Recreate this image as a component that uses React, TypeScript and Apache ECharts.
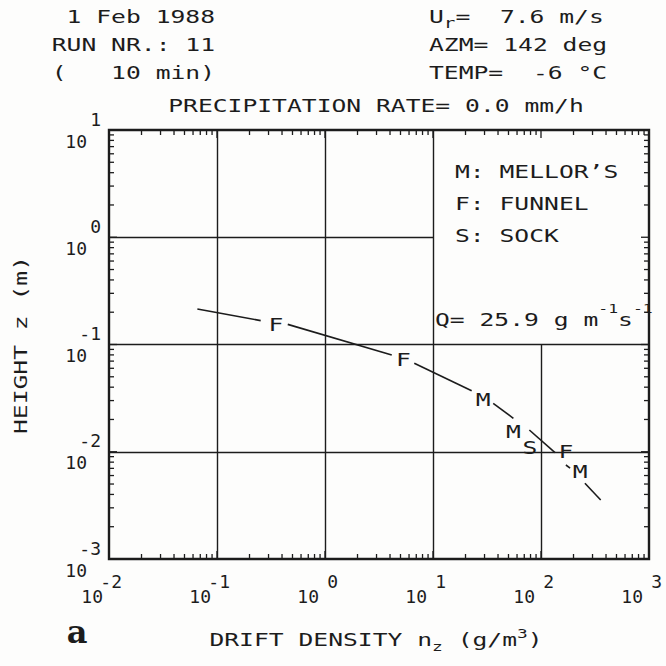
import React, { useEffect, useRef } from 'react';
import * as echarts from 'echarts';

// ---------- data ----------
const xTickExponents = ['-2', '-1', '0', '1', '2', '3'];
const yTickExponents = ['-3', '-2', '-1', '0', '1'];
const minorMantissas = [1, 2, 3, 4, 5, 6, 7, 8, 9];

const xMin = 0.01;
const xMax = 1000;
const yMin = 0.001;
const yMax = 10;

// grid lines (full and partial, the upper right corner is left open for the key)
const fullVerticalGrid = [0.1, 1, 10];
const partialVerticalGrid = [{ x: 100, from: 0.001, to: 0.1 }];
const fullHorizontalGrid = [0.01, 0.1];
const partialHorizontalGrid = [{ y: 1, from: 0.01, to: 10 }];

// fitted profile, drawn as dashes broken where the letters sit
const curveSeg1: number[][] = [[0.0658, 0.214], [0.254, 0.167]];
const curveSeg2: number[][] = [[0.452, 0.154], [4.15, 0.0798]];
const curveSeg3: number[][] = [[6.71, 0.0668], [22.8, 0.0371]];
const curveSeg4: number[][] = [[36.1, 0.0283], [55.5, 0.0205]];
const curveSeg5: number[][] = [[78.0, 0.01596], [134.9, 0.0098]];
const curveSeg6: number[][] = [[170, 0.00752], [186, 0.00705]];
const curveSeg7: number[][] = [[255, 0.00508], [357, 0.00355]];

// measured points (letter = instrument)
const markerLetters = ['F', 'F', 'M', 'M', 'S', 'F', 'M'];
const markerX = [0.352, 5.31, 29.2, 55.5, 79.1, 170, 230];
const markerY = [0.152, 0.0728, 0.0308, 0.0154, 0.011, 0.01, 0.00652];

// ---------- styling ----------
const INK = '#1c1c1c';
const MONO = '"DejaVu Sans Mono", "Liberation Mono", monospace';
const SX = 1.37;

function txt(text: string, x: number, y: number, align: string, extra: any = {}) {
  return {
    type: 'text',
    x,
    y,
    scaleX: SX,
    silent: true,
    style: {
      text,
      fontFamily: MONO,
      fontSize: 18,
      fill: INK,
      textAlign: align,
      align,
      textVerticalAlign: 'middle',
      verticalAlign: 'middle',
      ...extra,
    },
  };
}

export default function App() {
  const ref = useRef<HTMLDivElement>(null);

  useEffect(() => {
    if (!ref.current) return;
    const chart = echarts.init(ref.current, null, { renderer: 'svg' });

    const decadesX = xTickExponents.slice(0, -1).map((e) => Math.pow(10, Number(e)));
    const decadesY = yTickExponents.slice(0, -1).map((e) => Math.pow(10, Number(e)));
    const xTickData: number[][] = [];
    decadesX.forEach((d) => minorMantissas.forEach((m) => xTickData.push([m * d, 1, m === 1 ? 8 : 5])));
    const yTickData: number[][] = [];
    decadesY.forEach((d) => minorMantissas.forEach((m) => yTickData.push([1, m * d, m === 1 ? 8 : 5])));

    const gridLines: any[] = [];
    fullVerticalGrid.forEach((x) => gridLines.push([{ coord: [x, yMin] }, { coord: [x, yMax] }]));
    partialVerticalGrid.forEach((g) => gridLines.push([{ coord: [g.x, g.from] }, { coord: [g.x, g.to] }]));
    fullHorizontalGrid.forEach((y) => gridLines.push([{ coord: [xMin, y] }, { coord: [xMax, y] }]));
    partialHorizontalGrid.forEach((g) => gridLines.push([{ coord: [g.from, g.y] }, { coord: [g.to, g.y] }]));

    const segments = [curveSeg1, curveSeg2, curveSeg3, curveSeg4, curveSeg5, curveSeg6, curveSeg7];

    const tickStyle = { stroke: INK, lineWidth: 1.3 };

    const option: any = {
      animation: false,
      backgroundColor: '#fdfdfc',
      grid: {
        left: 109,
        right: 17,
        top: 130,
        bottom: 107,
        show: true,
        borderColor: INK,
        borderWidth: 2.4,
        backgroundColor: 'transparent',
        containLabel: false,
        outerBoundsMode: 'none',
      },
      xAxis: {
        type: 'log',
        logBase: 10,
        min: xMin,
        max: xMax,
        splitNumber: 5,
        axisLine: { show: false },
        axisTick: { show: false },
        splitLine: { show: false },
        axisLabel: {
          margin: 15,
          align: 'center',
          verticalAlign: 'top',
          color: INK,
          fontFamily: MONO,
          fontSize: 18,
          formatter: (v: number) => {
            const e = Math.round(Math.log10(v));
            const s = xTickExponents[e + 2];
            return `{e|${s}}{p1|}\n{b|10}{p2|}`;
          },
          rich: {
            e: { width: 41, align: 'right', fontFamily: MONO, fontSize: 18, lineHeight: 15, color: INK },
            p1: { width: 15, align: 'right', lineHeight: 15 },
            b: { width: 22, align: 'right', fontFamily: MONO, fontSize: 18, lineHeight: 15, color: INK },
            p2: { width: 34, align: 'right', lineHeight: 15 },
          },
        },
      },
      yAxis: {
        type: 'log',
        logBase: 10,
        min: yMin,
        max: yMax,
        splitNumber: 4,
        axisLine: { show: false },
        axisTick: { show: false },
        splitLine: { show: false },
        axisLabel: {
          margin: 8,
          align: 'right',
          verticalAlign: 'middle',
          color: INK,
          fontFamily: MONO,
          fontSize: 18,
          formatter: (v: number) => {
            const e = Math.round(Math.log10(v));
            const s = yTickExponents[e + 3];
            return `{e|${s}}\n{b|10}{p|}`;
          },
          rich: {
            e: { align: 'right', fontFamily: MONO, fontSize: 18, lineHeight: 22, color: INK },
            b: { align: 'right', fontFamily: MONO, fontSize: 18, lineHeight: 22, color: INK },
            p: { width: 14, align: 'right', lineHeight: 22 },
          },
        },
      },
      series: [
        ...segments.map((seg) => ({
          type: 'line',
          data: seg,
          symbol: 'none',
          silent: true,
          lineStyle: { color: INK, width: 1.6 },
          z: 3,
        })),
        {
          type: 'custom',
          silent: true,
          clip: false,
          z: 4,
          data: markerX.map((x, i) => ({ value: [x, markerY[i]], name: markerLetters[i] })),
          encode: { x: 0, y: 1 },
          renderItem: (params: any, api: any) => {
            const p = api.coord([api.value(0), api.value(1)]);
            return {
              type: 'text',
              x: p[0],
              y: p[1],
              scaleX: SX,
              style: {
                text: markerLetters[params.dataIndex],
                fontFamily: MONO,
                fontSize: 18,
                fill: INK,
                align: 'center',
                verticalAlign: 'middle',
                textAlign: 'center',
                textVerticalAlign: 'middle',
              },
            };
          },
          markLine: {
            silent: true,
            symbol: ['none', 'none'],
            label: { show: false },
            lineStyle: { color: INK, width: 1.4, type: 'solid' },
            data: gridLines,
          },
        },
        {
          type: 'custom',
          silent: true,
          clip: false,
          data: xTickData,
          encode: { x: 0, y: 1 },
          renderItem: (params: any, api: any) => {
            const v = api.value(0);
            const len = api.value(2);
            const b = api.coord([v, yMin]);
            const t = api.coord([v, yMax]);
            return {
              type: 'group',
              children: [
                { type: 'line', shape: { x1: b[0], y1: b[1], x2: b[0], y2: b[1] - len }, style: tickStyle },
                { type: 'line', shape: { x1: t[0], y1: t[1], x2: t[0], y2: t[1] + len }, style: tickStyle },
              ],
            };
          },
        },
        {
          type: 'custom',
          silent: true,
          clip: false,
          data: yTickData,
          encode: { x: 0, y: 1 },
          renderItem: (params: any, api: any) => {
            const v = api.value(1);
            const len = api.value(2);
            const l = api.coord([xMin, v]);
            const r = api.coord([xMax, v]);
            return {
              type: 'group',
              children: [
                { type: 'line', shape: { x1: l[0], y1: l[1], x2: l[0] + len, y2: l[1] }, style: tickStyle },
                { type: 'line', shape: { x1: r[0], y1: r[1], x2: r[0] - len, y2: r[1] }, style: tickStyle },
              ],
            };
          },
        },
      ],
      graphic: [
        txt('1 Feb 1988', 215, 17, 'right'),
        txt('RUN NR.: 11', 215, 45, 'right'),
        txt('(   10 min)', 215, 73, 'right'),
        txt('{a|U}{r|r}{a|=  7.6 m/s}', 429, 19, 'left', {
          rich: {
            a: { fontFamily: MONO, fontSize: 18, lineHeight: 22, verticalAlign: 'top', fill: INK, color: INK },
            r: { fontFamily: MONO, fontSize: 14, lineHeight: 22, verticalAlign: 'bottom', fill: INK, color: INK },
          },
        }),
        txt('AZM= 142 deg', 429, 45, 'left'),
        txt('TEMP=  -6 °C', 429, 73, 'left'),
        txt('PRECIPITATION RATE= 0.0 mm/h', 376, 106, 'center'),
        txt('M: MELLOR\u2019S', 455, 172, 'left'),
        txt('F: FUNNEL', 455, 204, 'left'),
        txt('S: SOCK', 455, 236, 'left'),
        txt('{a|Q= 25.9 g m}{s|-1}{a|s}{s|-1}', 435, 316, 'left', {
          rich: {
            a: { fontFamily: MONO, fontSize: 18, lineHeight: 26, verticalAlign: 'bottom', fill: INK, color: INK },
            s: { fontFamily: MONO, fontSize: 12, lineHeight: 26, verticalAlign: 'top', fill: INK, color: INK },
          },
        }),
        txt('{a|DRIFT DENSITY n}{z|z}{a| (g/m}{s|3}{a|)}', 376, 640, 'center', {
          rich: {
            a: { fontFamily: MONO, fontSize: 18, lineHeight: 26, verticalAlign: 'middle', fill: INK, color: INK },
            z: { fontFamily: MONO, fontSize: 13, lineHeight: 26, verticalAlign: 'bottom', fill: INK, color: INK },
            s: { fontFamily: MONO, fontSize: 13, lineHeight: 26, verticalAlign: 'top', fill: INK, color: INK },
          },
        }),
        {
          ...txt('HEIGHT z (m)', 21, 345, 'center'),
          rotation: Math.PI / 2,
        },
        {
          type: 'text',
          x: 77,
          y: 632,
          silent: true,
          style: {
            text: 'a',
            fontFamily: '"DejaVu Serif", "Liberation Serif", serif',
            fontWeight: 'bold',
            fontSize: 32,
            fill: INK,
            textAlign: 'center',
            align: 'center',
            textVerticalAlign: 'middle',
            verticalAlign: 'middle',
          },
        },
      ],
    };

    chart.setOption(option);
    return () => chart.dispose();
  }, []);

  return (
    <div
      ref={ref}
      style={{ position: 'absolute', left: 0, top: 0, width: 666, height: 666 }}
    />
  );
}
